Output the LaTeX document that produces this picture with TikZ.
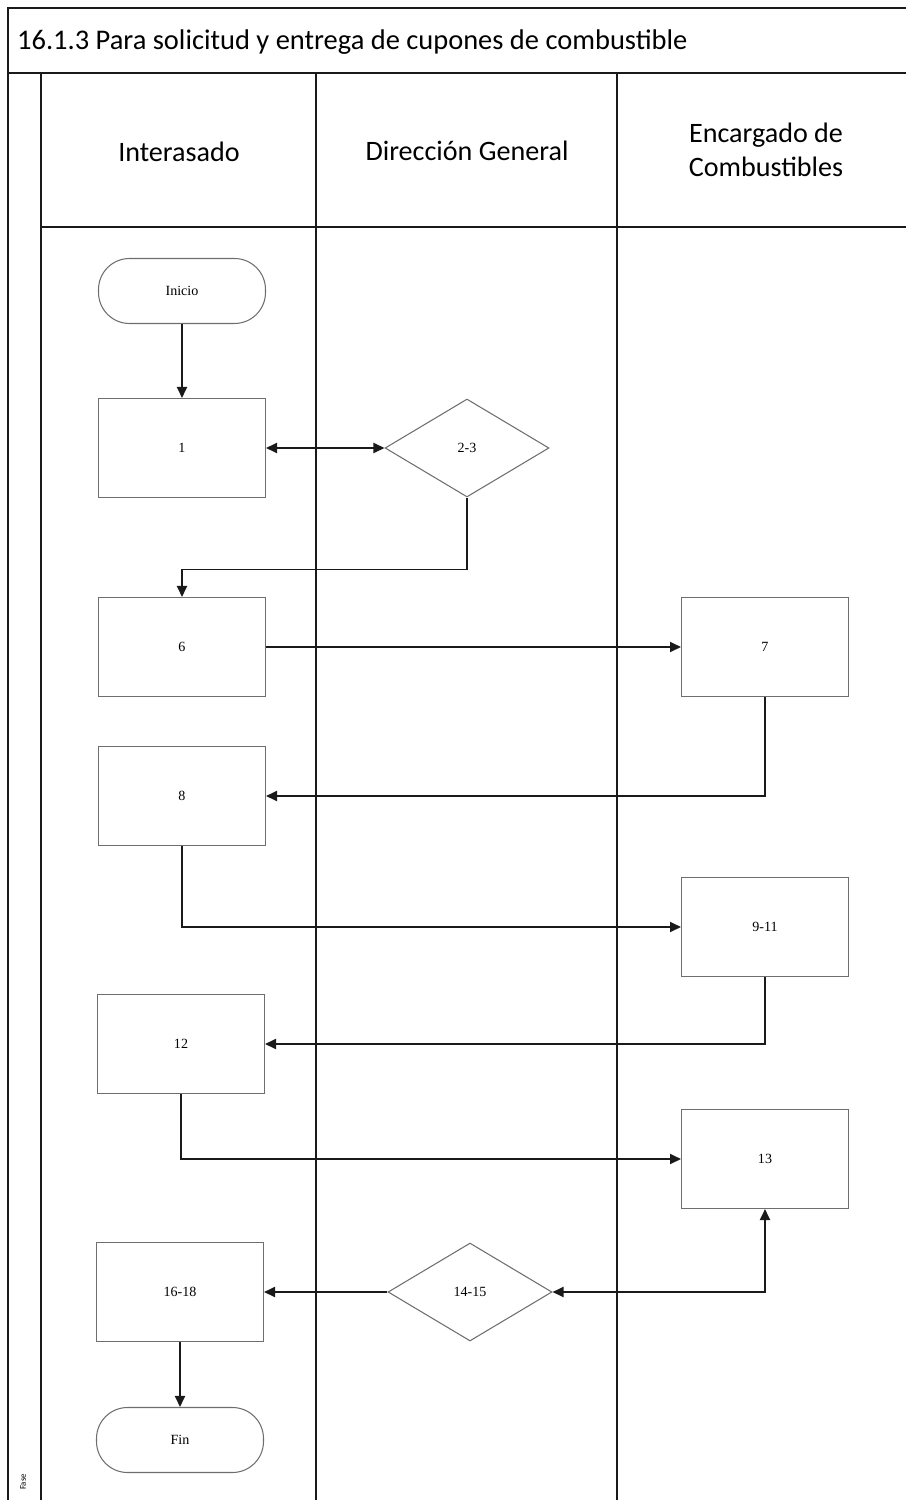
\documentclass[tikz,border=0pt]{standalone}
\usepackage{fontspec}
\setmainfont{Carlito}
\newfontfamily\boxfont{Liberation Serif}
\usepackage{xcolor}
\definecolor{cLine}{HTML}{1A1A1A}
\definecolor{cBox}{HTML}{6E6E6E}
\usetikzlibrary{arrows.meta,shapes.geometric}
\tikzset{
  lane-line/.style={draw=cLine,line width=1.1pt},
  node-box/.style={draw=cBox,line width=0.6pt,minimum width=3.34cm,
    minimum height=1.98cm,inner sep=0pt,font=\boxfont\footnotesize},
  node-dec/.style={draw=cBox,line width=0.6pt,diamond,minimum width=3.28cm,
    minimum height=1.96cm,inner sep=0pt,font=\boxfont\footnotesize},
  node-term/.style={draw=cBox,line width=0.6pt,rounded corners=0.62cm,
    minimum width=3.34cm,minimum height=1.3cm,inner sep=0pt,font=\boxfont\footnotesize},
  lane-head/.style={align=center,font=\fontsize{16}{19}\selectfont},
  arrow/.style={-{Triangle[length=2.2mm,width=2mm]},line width=1.1pt,draw=cLine},
  arrow-both/.style={{Triangle[length=2.2mm,width=2mm]}-{Triangle[length=2.2mm,width=2mm]},
    line width=1.1pt,draw=cLine},
}
\begin{document}
\begin{tikzpicture}[x=0.02cm,y=-0.02cm]
  \useasboundingbox (0,0) rectangle (906,1500);
  % marco y carriles
  \draw[lane-line] (8,1500) -- (8,8) -- (906,8);
  \draw[lane-line] (8,73) -- (906,73);
  \draw[lane-line] (41,73) -- (41,1500);
  \draw[lane-line] (316,73) -- (316,1500);
  \draw[lane-line] (617,73) -- (617,1500);
  \draw[lane-line] (41,227) -- (906,227);
  \node[anchor=west,font=\fontsize{16.2}{19}\selectfont] (title) at (11,42)
    {16.1.3 Para solicitud y entrega de cupones de combustible};
  \node[lane-head] (h1) at (179,152) {Interasado};
  \node[lane-head] (h2) at (467,151) {Dirección General};
  \node[lane-head] (h3) at (766,150) {Encargado de\\Combustibles};
  \node[rotate=90,font=\tiny] (fase) at (23,1482) {Fase};
  % pasos
  \node[node-term] (ini)   at (182,291)  {Inicio};
  \node[node-box]  (p1)    at (182,448)  {1};
  \node[node-dec]  (d23)   at (467,448)  {2-3};
  \node[node-box]  (p6)    at (182,647)  {6};
  \node[node-box]  (p7)    at (765,647)  {7};
  \node[node-box]  (p8)    at (182,796)  {8};
  \node[node-box]  (p911)  at (765,927)  {9-11};
  \node[node-box]  (p12)   at (181,1044) {12};
  \node[node-box]  (p13)   at (765,1159) {13};
  \node[node-dec]  (d1415) at (470,1292) {14-15};
  \node[node-box]  (p1618) at (180,1292) {16-18};
  \node[node-term] (fin)   at (180,1440) {Fin};
  % flujo
  \draw[arrow] (ini) -- (p1);
  \draw[arrow-both] (p1.east) -- (d23.west);
  \draw[arrow] (d23.south) -- ++(0,72) -| (p6.north);
  \draw[arrow] (p6.east) -- (p7.west);
  \draw[arrow] (p7.south) |- (p8.east);
  \draw[arrow] (p8.south) |- (p911.west);
  \draw[arrow] (p911.south) |- (p12.east);
  \draw[arrow] (p12.south) |- (p13.west);
  \draw[arrow-both] (p13.south) |- (d1415.east);
  \draw[arrow] (d1415.west) -- (p1618.east);
  \draw[arrow] (p1618) -- (fin);
\end{tikzpicture}
\end{document}
